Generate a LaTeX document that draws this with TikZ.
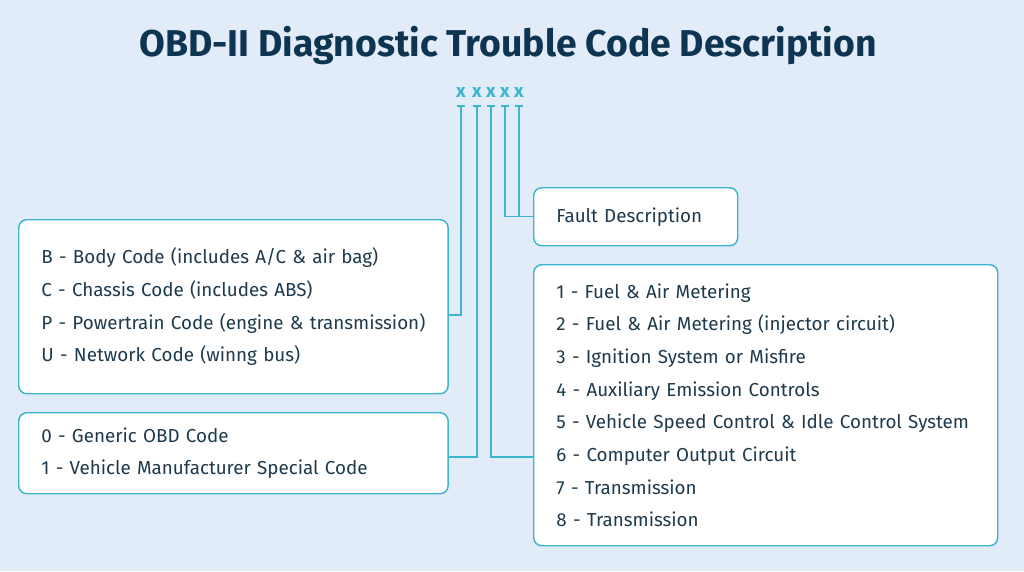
\documentclass[tikz,border=0pt]{standalone}
\usepackage{fontspec}
\setmainfont{Fira Sans}
\usepackage{xcolor}
\definecolor{bgblue}{HTML}{E2ECF8}
\definecolor{wirecyan}{HTML}{3DB5CE}
\definecolor{inkblue}{HTML}{1E3A4C}
\definecolor{titleblue}{HTML}{0D3450}

\begin{document}
\begin{tikzpicture}[x=0.75pt,y=-0.75pt]
\tikzset{
  codebox/.style={draw=wirecyan, line width=1.1pt, fill=white, rounded corners=6pt,
    align=left, inner xsep=17pt, inner ysep=0pt, text=inkblue,
    font=\fontsize{14.1}{24.5}\selectfont},
  wire/.style={draw=wirecyan, line width=1.1pt},
  digit/.style={text=wirecyan, font=\fontsize{14}{14}\bfseries\selectfont, inner sep=0pt}
}
\fill [bgblue] (0,0) rectangle (1024,571);
\useasboundingbox (0,0) rectangle (1024,571);
\node [text=titleblue, font=\fontsize{28}{32}\bfseries\selectfont] (title) at (508,46) {OBD-II Diagnostic Trouble Code Description};
% the five code characters
\foreach \i/\x in {1/461,2/477,3/491,4/505,5/519} {
  \node [digit] (x\i) at (\x,93) {x};
  \coordinate (t\i) at (\x,106);
  \draw [wire] (\x-4,106) -- (\x+4,106);
}
% boxes
\node [codebox, text width=288pt, minimum height=130.5pt, anchor=north west] (sys) at (18,219)
  {B - Body Code (includes A/C \& air bag)\\C - Chassis Code (includes ABS)\\P - Powertrain Code (engine \& transmission)\\U - Network Code (winng bus)};
\node [codebox, text width=288pt, minimum height=60.75pt, anchor=north west] (mfr) at (18,412)
  {0 - Generic OBD Code\\1 - Vehicle Manufacturer Special Code};
\node [codebox, text width=119pt, minimum height=43.5pt, anchor=north west] (fault) at (533,187)
  {Fault Description};
\node [codebox, text width=314pt, minimum height=210.75pt, anchor=north west] (sub) at (533,264)
  {1 - Fuel \& Air Metering\\2 - Fuel \& Air Metering (injector circuit)\\3 - Ignition System or Misfire\\4 - Auxiliary Emission Controls\\5 - Vehicle Speed Control \& Idle Control System\\6 - Computer Output Circuit\\7 - Transmission\\8 - Transmission};
% connectors
\draw [wire] (t1) |- (sys.east |- 0,315);
\draw [wire] (t2) |- (mfr.east |- 0,457);
\draw [wire] (t3) |- (sub.west |- 0,457);
\draw [wire] (t4) |- (t5 |- fault.west);
\draw [wire] (t5) |- (fault.west);
\end{tikzpicture}
\end{document}
